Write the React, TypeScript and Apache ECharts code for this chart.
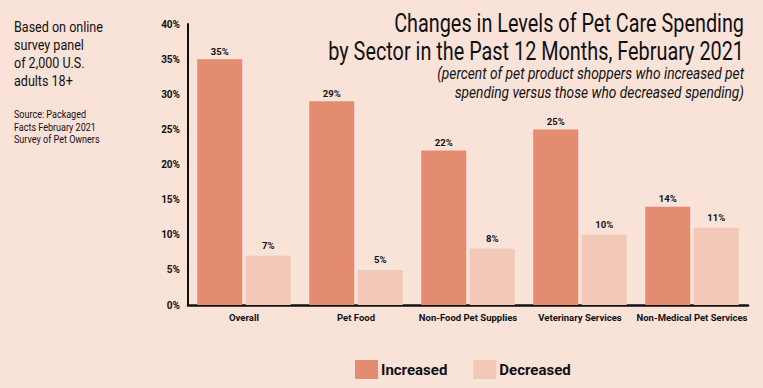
import React, { useEffect, useRef } from "react";
import * as echarts from "echarts";

const categories = ["Overall", "Pet Food", "Non-Food Pet Supplies", "Veterinary Services", "Non-Medical Pet Services"];
const increased = [35, 29, 22, 25, 14];
const decreased = [7, 5, 8, 10, 11];
const yTicks = [0, 5, 10, 15, 20, 25, 30, 35, 40];

const titleLines = ["Changes in Levels of Pet Care Spending", "by Sector in the Past 12 Months, February 2021"];
const subtitleLines = ["(percent of pet product shoppers who increased pet", "spending versus those who decreased spending)"];
const noteLines = ["Based on online", "survey panel", "of 2,000 U.S.", "adults 18+"];
const sourceLines = ["Source: Packaged", "Facts February 2021", "Survey of Pet Owners"];

const FONT = "Roboto, 'Liberation Sans', sans-serif";

function measure(text: string, font: string): number {
  const c = document.createElement("canvas");
  const ctx = c.getContext("2d");
  if (!ctx) return 1;
  ctx.font = font;
  return ctx.measureText(text).width || 1;
}

export default function App() {
  const ref = useRef<HTMLDivElement>(null);
  useEffect(() => {
    if (!ref.current) return;
    const chart = echarts.init(ref.current, null, { renderer: "svg" });

    const titleSize = 25;
    const titleScale = 416 / measure(titleLines[1], `${titleSize}px Roboto`);
    const subSize = 16;
    const subScale = 307 / measure(subtitleLines[0], `italic ${subSize}px Roboto`);
    const noteSize = 14.5;
    const noteScale = 89 / measure(noteLines[0], `${noteSize}px Roboto`);
    const srcSize = 10.5;
    const srcScale = 82 / measure(sourceLines[1], `${srcSize}px Roboto`);

    const labelStyle = {
      fontFamily: FONT,
      fontWeight: "bold",
      fontSize: 9.5,
      color: "#111",
    };

    const textEl = (t: string, x: number, y: number, sx: number, size: number, align: string, italic = false) => ({
      type: "text",
      x,
      y,
      scaleX: sx,
      style: {
        text: t,
        fontFamily: FONT,
        fontStyle: italic ? "italic" : "normal",
        fontSize: size,
        fill: "#111",
        align,
        verticalAlign: "top",
      },
    });

    chart.setOption({
      animation: false,
      backgroundColor: "#F9E2D8",
      grid: { left: 188, right: 15, top: 24, bottom: 83 },
      legend: {
        left: 350,
        top: 355,
        itemWidth: 23,
        itemHeight: 19,
        itemGap: 26,
        icon: "rect",
        textStyle: { fontFamily: FONT, fontWeight: "bold", fontSize: 15, color: "#111", padding: [0, 0, 0, -2] },
        data: ["Increased", "Decreased"],
      },
      xAxis: {
        type: "category",
        data: categories,
        axisLine: { show: true, lineStyle: { color: "#111", width: 2.5 } },
        axisTick: { show: false },
        axisLabel: { ...labelStyle, margin: 7, interval: 0 },
      },
      yAxis: {
        type: "value",
        min: 0,
        max: 40,
        interval: 5,
        axisLine: { show: true, lineStyle: { color: "#111", width: 2 } },
        axisTick: { show: false },
        splitLine: { show: false },
        axisLabel: {
          ...labelStyle,
          fontSize: 10,
          margin: 8,
          formatter: (v: number) => (yTicks.includes(v) ? v + "%" : ""),
        },
      },
      series: [
        {
          name: "Increased",
          type: "bar",
          data: increased,
          barWidth: 45,
          barGap: "8%",
          itemStyle: { color: "#E38C70" },
          label: { show: true, position: "top", distance: 3, formatter: "{c}%", ...labelStyle },
        },
        {
          name: "Decreased",
          type: "bar",
          data: decreased,
          barWidth: 45,
          itemStyle: { color: "#F2C8B7" },
          label: { show: true, position: "top", distance: 5, formatter: "{c}%", ...labelStyle },
        },
      ],
      graphic: [
        ...titleLines.map((t, i) => textEl(t, 744, 11 + i * 28, titleScale, titleSize, "right")),
        ...subtitleLines.map((t, i) => textEl(t, 744, 65.5 + i * 19, subScale, subSize, "right", true)),
        ...noteLines.map((t, i) => textEl(t, 14, 19 + i * 18, noteScale, noteSize, "left")),
        ...sourceLines.map((t, i) => textEl(t, 14, 109 + i * 12.3, srcScale, srcSize, "left")),
      ],
    });
    return () => chart.dispose();
  }, []);
  return (
    <div
      ref={ref}
      style={{ width: 763, height: 388, position: "absolute", left: 0, top: 0 }}
    />
  );
}
